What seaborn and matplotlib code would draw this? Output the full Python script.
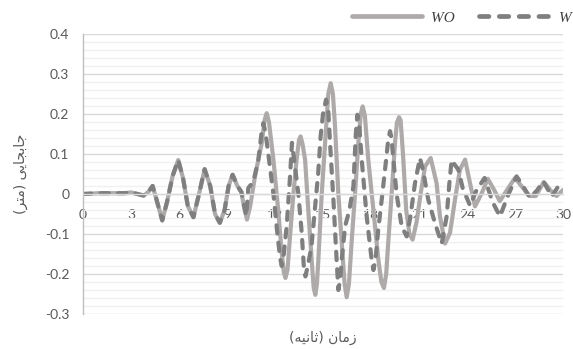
import matplotlib
matplotlib.use("Agg")
import matplotlib.pyplot as plt
from matplotlib.ticker import MultipleLocator, FixedLocator
import seaborn as sns
import pandas as pd

# ---------------------------------------------------------------- data
# displacement response without damper (WO) and with damper (W)
wo_time = [0.0, 1.0, 2.0, 2.6, 3.0, 3.4, 3.8, 4.1, 4.35, 4.6, 4.95, 5.25, 5.6, 5.95,
           6.25, 6.55, 6.9, 7.25, 7.6, 7.95, 8.25, 8.55, 8.85, 9.1, 9.35, 9.65, 9.9,
           10.05, 10.25, 10.45, 10.75, 11.17, 11.35, 11.48, 11.62, 11.9, 12.2, 12.42,
           12.55, 12.65, 12.78, 12.95, 13.15, 13.35, 13.5, 13.6, 13.72, 13.88, 14.08,
           14.29, 14.42, 14.52, 14.62, 14.71, 14.92, 15.13, 15.33, 15.48, 15.62,
           15.75, 15.96, 16.17, 16.35, 16.48, 16.62, 16.79, 17.0, 17.21, 17.36,
           17.48, 17.62, 17.83, 18.15, 18.46, 18.65, 18.81, 18.95, 19.08, 19.29,
           19.5, 19.62, 19.75, 19.85, 20.0, 20.2, 20.4, 20.6, 20.85, 21.1, 21.38,
           21.73, 22.1, 22.31, 22.63, 22.94, 23.25, 23.56, 23.88, 24.19, 24.5,
           24.9, 25.3, 25.7, 26.05, 26.5, 27.0, 27.4, 27.9, 28.3, 28.8, 29.2,
           29.6, 30.0]
wo_disp = [0.000, 0.002, 0.002, 0.002, 0.004, 0.000, -0.004, 0.006, 0.020, -0.015,
           -0.066, -0.020, 0.045, 0.085, 0.040, -0.030, -0.058, 0.000, 0.062, 0.020,
           -0.050, -0.072, -0.040, 0.020, 0.048, 0.020, 0.005, -0.030, -0.064,
           -0.030, 0.044, 0.127, 0.185, 0.202, 0.180, 0.086, -0.040, -0.147, -0.195,
           -0.210, -0.190, -0.100, 0.000, 0.086, 0.135, 0.144, 0.125, 0.086, -0.040,
           -0.164, -0.235, -0.252, -0.225, -0.164, 0.000, 0.127, 0.250, 0.277, 0.250,
           0.170, 0.000, -0.120, -0.225, -0.258, -0.225, -0.120, 0.000, 0.127, 0.200,
           0.219, 0.195, 0.086, -0.040, -0.164, -0.220, -0.235, -0.200, -0.120, 0.000,
           0.127, 0.178, 0.192, 0.185, 0.100, -0.040, -0.100, -0.114, -0.070, 0.000,
           0.069, 0.090, 0.027, -0.056, -0.124, -0.097, -0.014, 0.061, 0.086, 0.027,
           -0.031, 0.000, 0.038, 0.010, -0.018, 0.010, 0.040, 0.020, -0.005, -0.005,
           0.030, 0.010, -0.005, 0.010]

w_time = [0.0, 1.0, 2.0, 2.6, 3.0, 3.4, 3.8, 4.1, 4.35, 4.6, 4.95, 5.25, 5.6, 5.95,
          6.25, 6.55, 6.9, 7.25, 7.6, 7.95, 8.25, 8.55, 8.85, 9.1, 9.35, 9.65, 9.9,
          10.2, 10.33, 10.65, 10.96, 11.15, 11.27, 11.4, 11.58, 11.9, 12.15, 12.32,
          12.42, 12.55, 12.73, 12.94, 13.06, 13.18, 13.46, 13.67, 13.8, 13.9, 14.05,
          14.28, 14.49, 14.7, 14.85, 15.0, 15.19, 15.33, 15.44, 15.65, 15.85, 15.96,
          16.07, 16.17, 16.38, 16.65, 16.9, 17.05, 17.15, 17.27, 17.42, 17.73, 18.04,
          18.15, 18.28, 18.45, 18.67, 18.9, 19.08, 19.19, 19.28, 19.4, 19.6, 19.92,
          20.23, 20.45, 20.75, 21.06, 21.25, 21.58, 22.0, 22.42, 22.73, 22.9, 23.04,
          23.2, 23.46, 23.73, 24.19, 24.6, 25.1, 25.6, 26.06, 26.6, 27.1, 27.5,
          27.94, 28.4, 28.77, 29.3, 29.8, 30.0]
w_disp = [0.000, 0.002, 0.002, 0.002, 0.004, 0.000, -0.004, 0.006, 0.020, -0.015,
          -0.066, -0.020, 0.045, 0.085, 0.040, -0.030, -0.058, 0.000, 0.062, 0.020,
          -0.050, -0.072, -0.040, 0.020, 0.048, 0.020, 0.005, -0.055, 0.015, 0.031,
          0.086, 0.150, 0.177, 0.155, 0.100, 0.000, -0.100, -0.160, -0.180, -0.150,
          -0.081, 0.044, 0.128, 0.090, 0.000, -0.097, -0.180, -0.206, -0.180, -0.131,
          -0.039, 0.052, 0.144, 0.200, 0.236, 0.210, 0.127, -0.014, -0.164, -0.240,
          -0.215, -0.164, -0.081, -0.040, 0.019, 0.150, 0.198, 0.170, 0.086, -0.056,
          -0.164, -0.190, -0.165, -0.090, -0.014, 0.069, 0.136, 0.157, 0.140, 0.086,
          0.000, -0.081, -0.106, -0.060, 0.027, 0.090, 0.060, -0.014, -0.073, -0.124,
          -0.056, 0.027, 0.085, 0.075, 0.061, 0.015, -0.029, 0.010, 0.040, -0.020,
          -0.056, 0.000, 0.044, 0.020, -0.010, 0.010, 0.032, -0.006, 0.025, 0.020]

series_names = ["WO", "W"]
x_ticks = [0, 3, 6, 9, 12, 15, 18, 21, 24, 27, 30]
y_ticks = [-0.3, -0.2, -0.1, 0.0, 0.1, 0.2, 0.3, 0.4]
y_tick_labels = ["-0.3", "-0.2", "-0.1", "0", "0.1", "0.2", "0.3", "0.4"]
x_title = "زمان (ثانیه)"
y_title = "جابجایی (متر)"

# ------------------------------------------------ Persian text shaping
# (isolated, final, initial, medial) presentation forms
FORMS = {
    "ا": (0xFE8D, 0xFE8E, None, None),
    "ب": (0xFE8F, 0xFE90, 0xFE91, 0xFE92),
    "ت": (0xFE95, 0xFE96, 0xFE97, 0xFE98),
    "ث": (0xFE99, 0xFE9A, 0xFE9B, 0xFE9C),
    "ج": (0xFE9D, 0xFE9E, 0xFE9F, 0xFEA0),
    "ر": (0xFEAD, 0xFEAE, None, None),
    "ز": (0xFEAF, 0xFEB0, None, None),
    "م": (0xFEE1, 0xFEE2, 0xFEE3, 0xFEE4),
    "ن": (0xFEE5, 0xFEE6, 0xFEE7, 0xFEE8),
    "ه": (0xFEE9, 0xFEEA, 0xFEEB, 0xFEEC),
    "ی": (0xFBFC, 0xFBFD, 0xFBFE, 0xFBFF),
}
MIRROR = {"(": ")", ")": "("}


def rtl(text):
    """Shape Persian letters and return the string in visual order."""
    out = []
    for i, ch in enumerate(text):
        if ch not in FORMS:
            out.append(ch)
            continue
        prev = text[i - 1] if i > 0 else None
        nxt = text[i + 1] if i + 1 < len(text) else None
        join_prev = prev in FORMS and FORMS[prev][2] is not None
        join_next = nxt in FORMS and FORMS[ch][2] is not None
        iso, fin, ini, med = FORMS[ch]
        if join_prev and join_next:
            g = med
        elif join_prev:
            g = fin
        elif join_next:
            g = ini
        else:
            g = iso
        out.append(chr(g))
    return "".join(MIRROR.get(c, c) for c in reversed(out))


# ------------------------------------------------------------- figure
sns.set_theme(style="white")
plt.rcParams["font.family"] = ["Lato", "DejaVu Sans"]

df = pd.concat([
    pd.DataFrame({"t": wo_time, "d": wo_disp, "s": series_names[0]}),
    pd.DataFrame({"t": w_time, "d": w_disp, "s": series_names[1]}),
])

fig = plt.figure(figsize=(5.73, 3.49), dpi=100)
ax = fig.add_axes([0.1449, 0.1003, 0.8376, 0.8023])

sns.lineplot(
    data=df, x="t", y="d", hue="s", style="s", ax=ax,
    palette={"WO": "#AEAAAA", "W": "#7F7F7F"},
    dashes={"WO": "", "W": (2.0, 2.2)},
    estimator=None, sort=False, linewidth=3.0,
)
for ln in ax.get_lines():
    ln.set_solid_capstyle("round")
    ln.set_solid_joinstyle("round")
    ln.set_dash_capstyle("round")
    ln.set_dash_joinstyle("round")

ax.set_xlim(0, 30)
ax.set_ylim(-0.3, 0.4)
ax.xaxis.set_major_locator(FixedLocator(x_ticks))
ax.yaxis.set_major_locator(FixedLocator(y_ticks))
ax.yaxis.set_minor_locator(MultipleLocator(0.02))
ax.set_yticklabels(y_tick_labels)
ax.set_xticklabels([str(v) for v in x_ticks])

ax.grid(which="major", axis="y", color="#D9D9D9", linewidth=1.0)
ax.grid(which="minor", axis="y", color="#F0F0F0", linewidth=1.0)
ax.grid(which="major", axis="x", visible=False)
ax.set_axisbelow(True)

for side in ["top", "right"]:
    ax.spines[side].set_visible(False)
ax.spines["left"].set_color("#BFBFBF")
ax.spines["left"].set_linewidth(1.0)
ax.spines["bottom"].set_position(("data", 0))
ax.spines["bottom"].set_color("#D9D9D9")
ax.spines["bottom"].set_linewidth(1.0)

ax.tick_params(axis="both", which="both", length=0, labelsize=10, colors="#595959")
ax.tick_params(axis="y", pad=10)
ax.tick_params(axis="x", pad=11)

ax.set_xlabel(rtl(x_title), fontsize=10, color="#595959", family="DejaVu Sans")
ax.xaxis.set_label_coords(0.5, -0.06)
ax.set_ylabel(rtl(y_title), fontsize=10, color="#595959", family="DejaVu Sans",
              labelpad=12)

sns.move_legend(
    ax, "center left", bbox_to_anchor=(0.6138, 0.949),
    bbox_transform=fig.transFigure, ncol=2, frameon=False, title=None,
    handlelength=4.6, handletextpad=0.6, columnspacing=1.6,
    borderpad=0, borderaxespad=0, fontsize=11,
)
leg = ax.get_legend()
for txt in leg.get_texts():
    txt.set_family("Liberation Serif")
    txt.set_style("italic")
    txt.set_color("#404040")
for ln in leg.get_lines():
    ln.set_linewidth(3.4)
    ln.set_solid_capstyle("round")
    ln.set_dash_capstyle("round")

fig.savefig("out.png", dpi=100)
